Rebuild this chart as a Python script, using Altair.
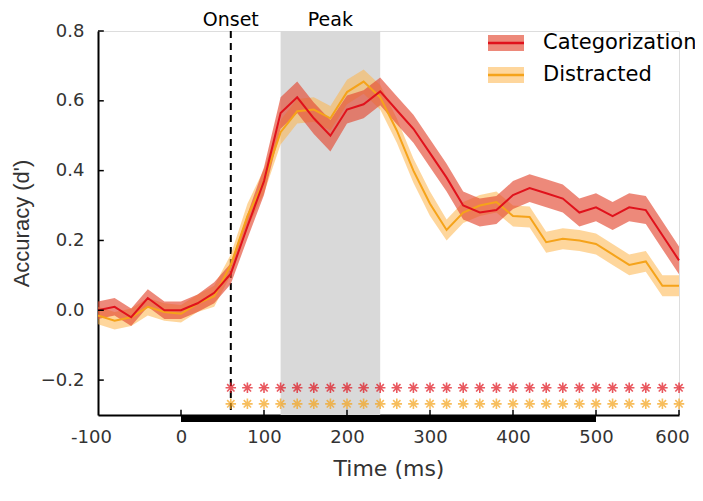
import altair as alt
import pandas as pd

times = [-100, -80, -60, -40, -20, 0, 20, 40, 60, 80, 100, 120, 140, 160, 180, 200, 220, 240,
         260, 280, 300, 320, 340, 360, 380, 400, 420, 440, 460, 480, 500, 520, 540, 560, 580, 600]

cat_mean = [0.00, 0.01, -0.02, 0.035, 0.00, 0.00, 0.02, 0.05, 0.105, 0.24, 0.37, 0.565, 0.61, 0.55,
            0.50, 0.575, 0.59, 0.627, 0.573, 0.52, 0.45, 0.38, 0.30, 0.28, 0.287, 0.33, 0.35, 0.335,
            0.32, 0.28, 0.295, 0.27, 0.295, 0.287, 0.215, 0.143]
cat_err = [0.025, 0.025, 0.025, 0.025, 0.025, 0.025, 0.025, 0.03, 0.03, 0.035, 0.04, 0.045, 0.045, 0.045,
           0.045, 0.04, 0.04, 0.04, 0.04, 0.04, 0.04, 0.04, 0.04, 0.04, 0.04, 0.04, 0.04, 0.04,
           0.04, 0.04, 0.04, 0.04, 0.04, 0.04, 0.04, 0.04]

dis_mean = [-0.015, -0.03, -0.02, 0.01, -0.005, -0.01, 0.02, 0.04, 0.13, 0.27, 0.37, 0.51, 0.57, 0.575,
            0.55, 0.625, 0.655, 0.61, 0.515, 0.40, 0.305, 0.23, 0.28, 0.30, 0.31, 0.27, 0.267, 0.195,
            0.205, 0.20, 0.19, 0.16, 0.13, 0.14, 0.07, 0.07]
dis_err = [0.025, 0.025, 0.025, 0.025, 0.025, 0.025, 0.025, 0.03, 0.03, 0.035, 0.035, 0.035, 0.035, 0.035,
           0.035, 0.035, 0.035, 0.035, 0.035, 0.035, 0.035, 0.03, 0.03, 0.03, 0.03, 0.03, 0.03, 0.03,
           0.03, 0.03, 0.03, 0.03, 0.03, 0.03, 0.03, 0.03]

star_times = [60, 80, 100, 120, 140, 160, 180, 200, 220, 240, 260, 280, 300, 320, 340, 360, 380, 400,
              420, 440, 460, 480, 500, 520, 540, 560, 580, 600]
star_y_cat = -0.222
star_y_dis = -0.268

y_ticks = [-0.2, 0.0, 0.2, 0.4, 0.6, 0.8]
x_ticks = [-100, 0, 100, 200, 300, 400, 500, 600]

RED_LINE = "#e0121c"
RED_BAND = "#e34a33"
YEL_LINE = "#f5a31a"
YEL_BAND = "#fdb44b"
FONT = "DejaVu Sans"
YFONT = "Liberation Sans"

rows = []
for name, m, e in [("Categorization", cat_mean, cat_err), ("Distracted", dis_mean, dis_err)]:
    for t, v, s in zip(times, m, e):
        rows.append({"cond": name, "t": t, "m": v, "lo": v - s, "hi": v + s})
df = pd.DataFrame(rows)
cat_df = df[df.cond == "Categorization"]
dis_df = df[df.cond == "Distracted"]

xs = alt.Scale(domain=[-100, 600], nice=False, zero=False)
ys = alt.Scale(domain=[-0.3, 0.8], nice=False, zero=False)

X = alt.X("t:Q", scale=xs,
          axis=alt.Axis(values=x_ticks, title="Time (ms)", ticks=False, grid=False,
                        domainColor="black", domainWidth=2, labelPadding=13, labelFlush=False,
                        labelExpr="replace(datum.label, '\u2212', '-')",
                        labelOffset={"condition": {"test": "datum.value == 600 || datum.value == -100",
                                                   "value": -7}, "value": 0},
                        labelFontSize=18, titleFontSize=22, titlePadding=12,
                        labelColor="#333333", titleColor="#333333", titleFontWeight="normal",
                        labelFont=FONT, titleFont=FONT))
Y = alt.Y("m:Q", scale=ys,
          axis=alt.Axis(values=y_ticks, format=".1f", title="Accuracy (d')", ticks=False, grid=False,
                        domainColor="black", domainWidth=2, labelPadding=14, labelFlush=False,
                        labelFontSize=18, titleFontSize=22, titlePadding=7,
                        labelColor="#333333", titleColor="#333333", titleFontWeight="normal",
                        labelFont=FONT, titleFont=YFONT))

peak = alt.Chart(pd.DataFrame({"a": [120], "b": [240]})).mark_rect(color="#d9d9d9").encode(
    x=alt.X("a:Q", scale=xs), x2="b:Q", y=alt.value(0), y2=alt.value(384))

onset = alt.Chart(pd.DataFrame({"t": [60]})).mark_rule(
    color="black", strokeDash=[7, 5], strokeWidth=2).encode(
    x=alt.X("t:Q", scale=xs), y=alt.value(0), y2=alt.value(384))

labels = alt.Chart(pd.DataFrame({"t": [60, 180], "lab": ["Onset", "Peak"]})).mark_text(
    font=FONT, fontSize=19, color="black", baseline="middle").encode(
    x=alt.X("t:Q", scale=xs), y=alt.value(-11), text="lab:N")

band_d = alt.Chart(dis_df).mark_area(color=YEL_BAND, opacity=0.55).encode(
    x=X, y=alt.Y("lo:Q", scale=ys), y2="hi:Q")
band_c = alt.Chart(cat_df).mark_area(color=RED_BAND, opacity=0.65).encode(
    x=X, y=alt.Y("lo:Q", scale=ys), y2="hi:Q")
line_d = alt.Chart(dis_df).mark_line(color=YEL_LINE, strokeWidth=2).encode(x=X, y=Y)
line_c = alt.Chart(cat_df).mark_line(color=RED_LINE, strokeWidth=2).encode(x=X, y=Y)

ast = "M-1,0L1,0M0,-1L0,1M-0.7,-0.7L0.7,0.7M-0.7,0.7L0.7,-0.7"
stars_df = pd.DataFrame(
    [{"t": t, "y": star_y_cat, "c": "Categorization"} for t in star_times] +
    [{"t": t, "y": star_y_dis, "c": "Distracted"} for t in star_times])
stars = alt.Chart(stars_df).mark_point(shape=ast, size=110, strokeWidth=1.6, filled=False).encode(
    x=alt.X("t:Q", scale=xs), y=alt.Y("y:Q", scale=ys),
    color=alt.Color("c:N", scale=alt.Scale(domain=["Categorization", "Distracted"],
                                           range=[RED_LINE, YEL_LINE]), legend=None))

# inward ticks
ytick_df = pd.DataFrame({"v": y_ticks, "x0": [-100] * len(y_ticks), "x1": [-93] * len(y_ticks)})
yticks = alt.Chart(ytick_df).mark_rule(color="black", strokeWidth=1.5).encode(
    x=alt.X("x0:Q", scale=xs), x2="x1:Q", y=alt.Y("v:Q", scale=ys))
xtick_df = pd.DataFrame({"v": x_ticks[1:], "y0": [-0.3] * 7, "y1": [-0.285] * 7})
xticks = alt.Chart(xtick_df).mark_rule(color="black", strokeWidth=1.5).encode(
    x=alt.X("v:Q", scale=xs), y=alt.Y("y0:Q", scale=ys), y2="y1:Q")

bar = alt.Chart(pd.DataFrame({"a": [0], "b": [500], "y": [-0.31]})).mark_rule(
    color="black", strokeWidth=7).encode(
    x=alt.X("a:Q", scale=xs), x2="b:Q", y=alt.Y("y:Q", scale=ys))

# legend
leg_items = []
for name, yc, bc, bo, lc in [("Categorization", 12, RED_BAND, 0.65, RED_LINE),
                             ("Distracted", 44, YEL_BAND, 0.55, YEL_LINE)]:
    one = pd.DataFrame({"name": [name]})
    leg_items.append(alt.Chart(one).mark_rect(color=bc, opacity=bo).encode(
        x=alt.value(390), x2=alt.value(426), y=alt.value(yc - 8), y2=alt.value(yc + 8)))
    leg_items.append(alt.Chart(one).mark_rule(color=lc, strokeWidth=2.5).encode(
        x=alt.value(390), x2=alt.value(426), y=alt.value(yc)))
    leg_items.append(alt.Chart(one).mark_text(font=FONT, fontSize=21, color="black",
                                              align="left", baseline="middle").encode(
        x=alt.value(445), y=alt.value(yc), text="name:N"))

chart = alt.layer(peak, onset, band_d, band_c, line_d, line_c, stars, yticks, xticks, bar, labels,
                  *leg_items).properties(
    width=581, height=384,
    autosize=alt.AutoSizeParams(type="none"),
    padding={"left": 90, "top": 23, "right": 16, "bottom": 78},
).configure_view(stroke=None).configure(background="white")

chart.save("out.html", embed_options={"renderer": "svg", "actions": False})
